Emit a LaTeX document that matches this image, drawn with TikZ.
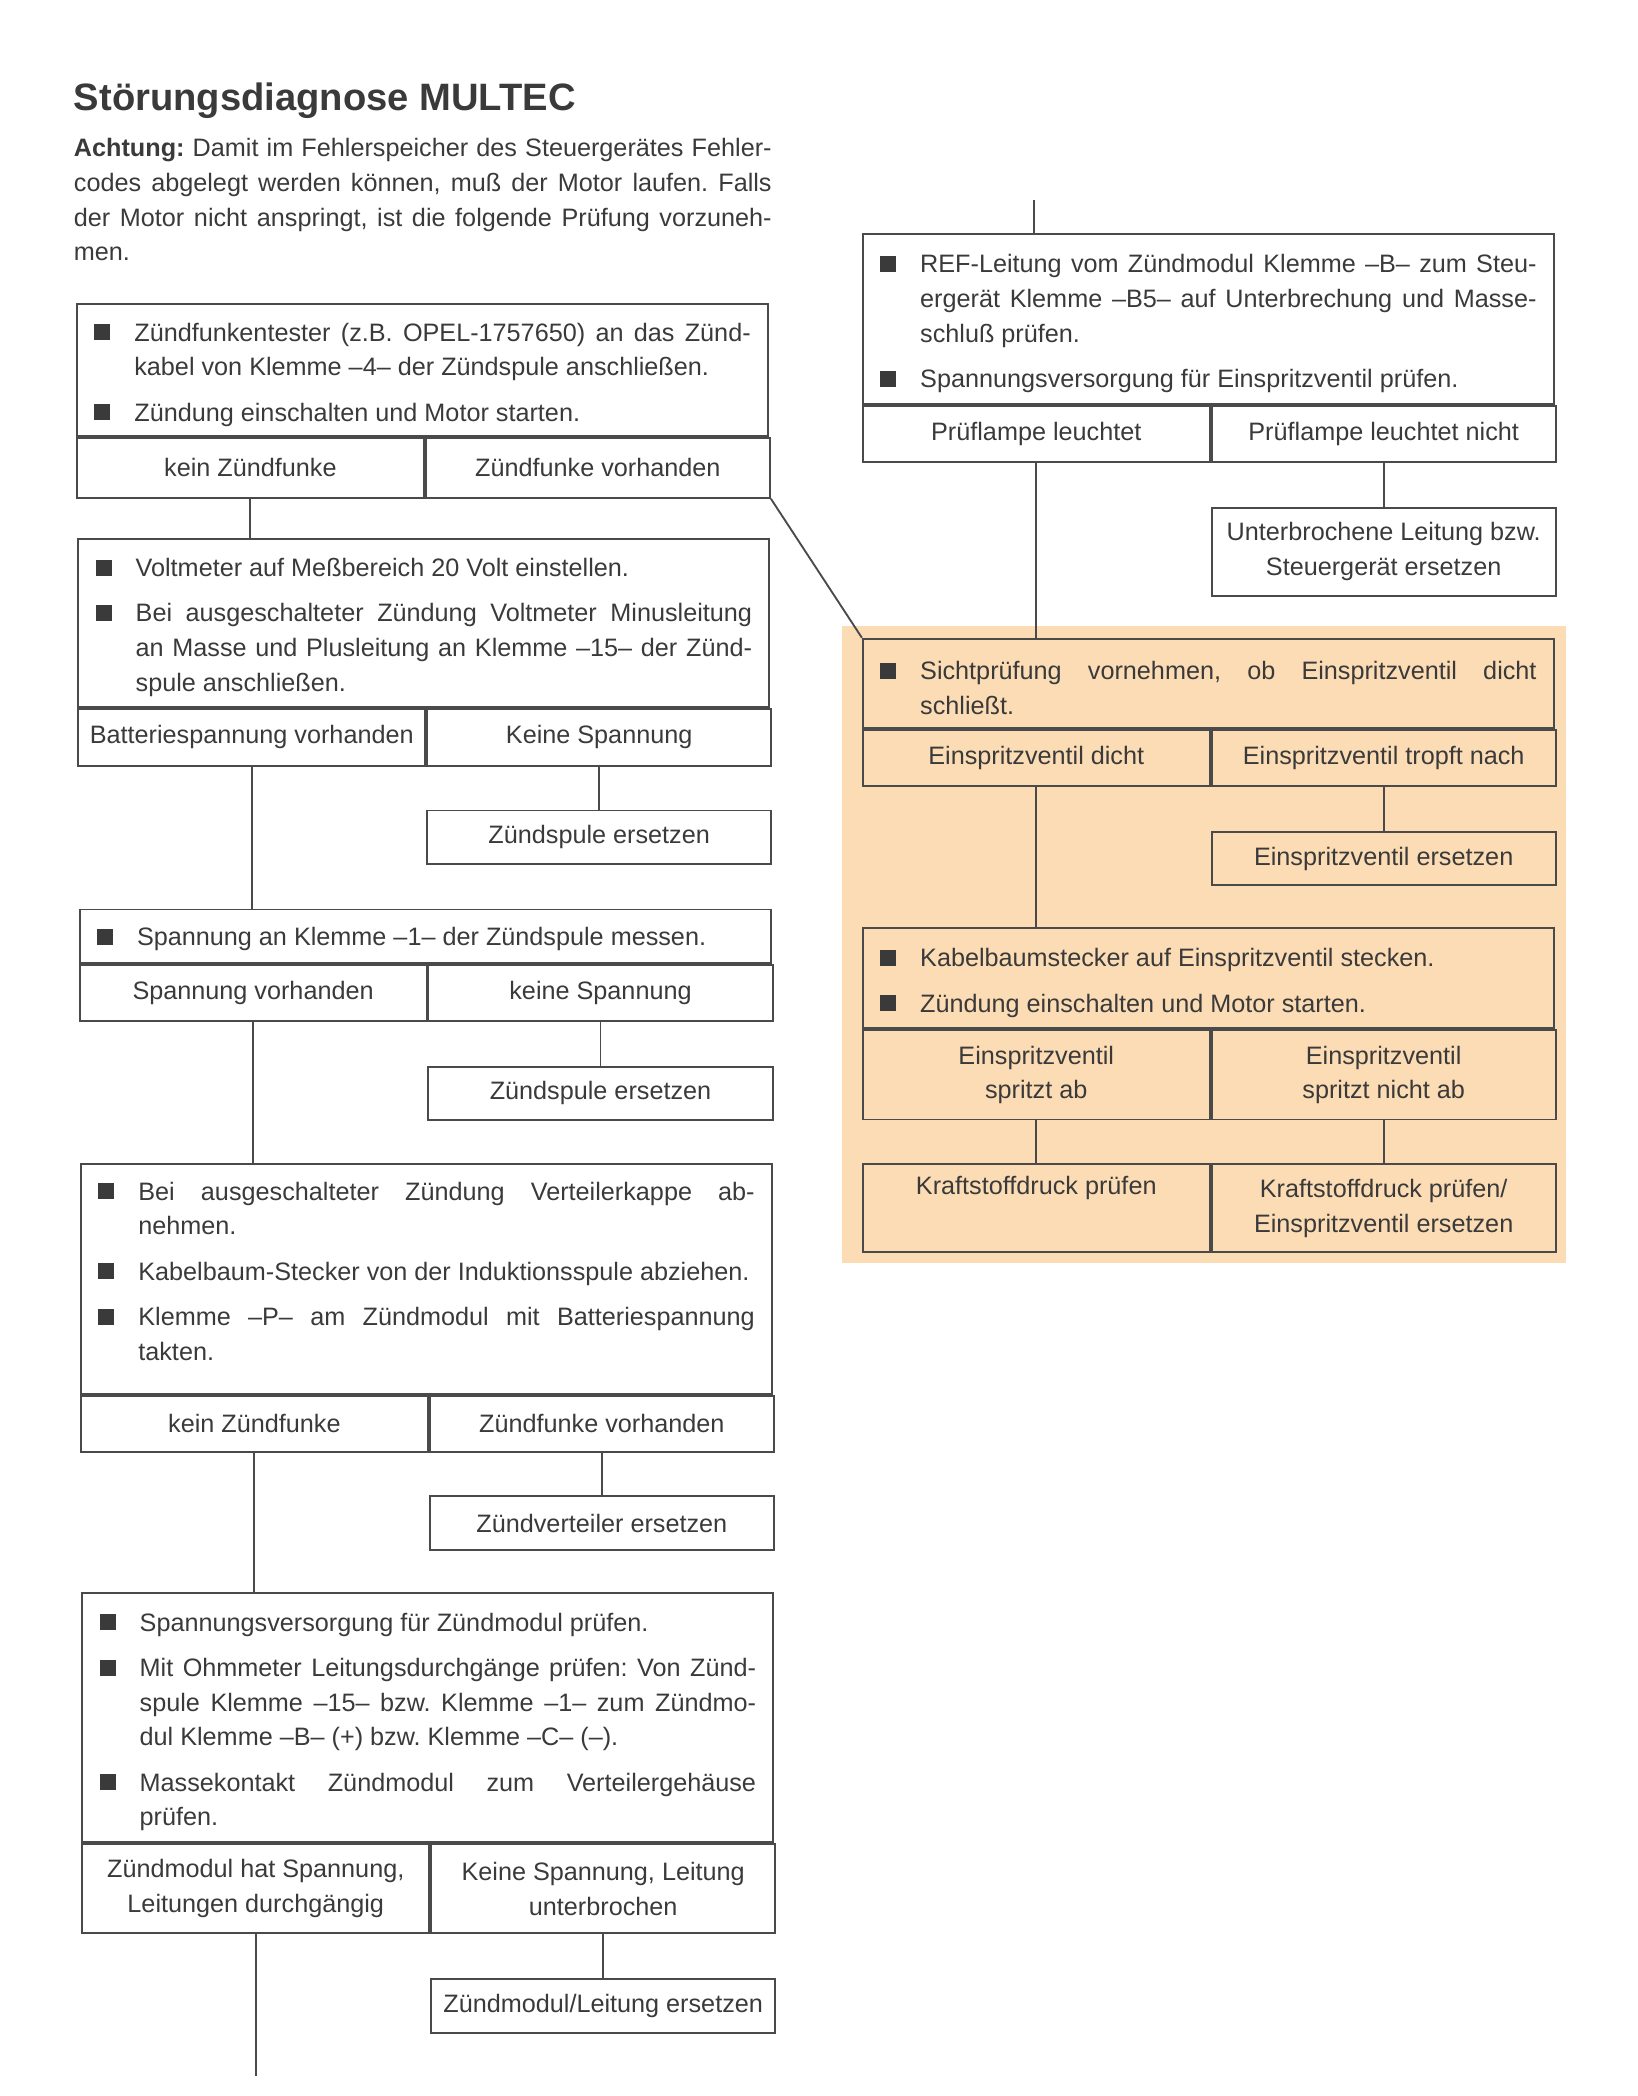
\documentclass[tikz,border=0pt]{standalone}
\usepackage{fontspec}
\setmainfont{Liberation Sans}
\usetikzlibrary{positioning}

\definecolor{ink}{HTML}{3A3A3A}
\definecolor{rahmen}{HTML}{4A4A4A}
\definecolor{pfirsich}{HTML}{FCDCB4}

% Aufzaehlungspunkt mit haengendem Einzug
\newcommand\punkt{\makebox[15pt][l]{\rule[0.3pt]{6pt}{6pt}}}
\newcommand\schritt[1]{\noindent\hangindent=15pt\hangafter=1\punkt#1\par}

\begin{document}
\frenchspacing
\begin{tikzpicture}[x=0.5pt,y=-0.5pt,
  every node/.style={text=ink,font=\fontsize{9.45}{13}\selectfont},
  kasten/.style={draw=rahmen,line width=0.7pt,anchor=north west,inner xsep=6.5pt,inner ysep=0pt,
    text width=246pt,align=justify,
    execute at begin node={\setlength{\parskip}{4pt}\tolerance=10000\hbadness=10000},
    execute at end node={\endgraf\vspace{-3.5pt}}},
  zelle/.style 2 args={draw=rahmen,line width=0.7pt,anchor=north west,inner sep=0pt,align=center,
    minimum width=#1,minimum height=#2},
  linie/.style={draw=rahmen,line width=0.7pt}]

\useasboundingbox (0,0) rectangle (1227,1571);

%Hintergrund rechts
\fill[pfirsich] (631,469) rectangle (1174,947);

%Ueberschrift
\node[anchor=base west,inner sep=0pt,font=\fontsize{14.3}{17}\selectfont\bfseries] (titel) at (55,83) {Störungsdiagnose MULTEC};
\node[anchor=north west,inner sep=0pt,text width=261.5pt,align=justify,
  execute at begin node={\tolerance=10000\hbadness=10000}] (hinweis) at (55,99)
  {\strut\textbf{Achtung:} Damit im Fehlerspeicher des Steuergerätes Fehler-\linebreak
   codes abgelegt werden können, muß der Motor laufen. Falls\linebreak
   der Motor nicht anspringt, ist die folgende Prüfung vorzuneh-\linebreak
   men.};

%Kasten 1
\node[kasten,minimum height=49.5pt] (z1) at (57,227) {%
  \schritt{Zündfunkentester (z.B. OPEL-1757650) an das Zünd-\linebreak kabel von Klemme –4– der Zündspule anschließen.}
  \schritt{Zündung einschalten und Motor starten.}};
\node[zelle={130pt}{22.5pt}] (z1a) at (z1.south west) {kein Zündfunke};
\node[zelle={129pt}{22.5pt}] (z1b) at (z1a.north east) {Zündfunke vorhanden};

%Kasten 2
\node[kasten,minimum height=63pt] (z2) at (58,403) {%
  \schritt{Voltmeter auf Meßbereich 20 Volt einstellen.}
  \schritt{Bei ausgeschalteter Zündung Voltmeter Minusleitung\linebreak an Masse und Plusleitung an Klemme –15– der Zünd-\linebreak spule anschließen.}};
\node[zelle={130pt}{21.5pt}] (z2a) at (z2.south west) {Batteriespannung vorhanden};
\node[zelle={129pt}{21.5pt}] (z2b) at (z2a.north east) {Keine Spannung};
\node[zelle={129pt}{20pt},below=16pt of z2b] (zs1) {Zündspule ersetzen};

%Kasten 3
\node[kasten,minimum height=20pt] (z3) at (59,681) {%
  \schritt{Spannung an Klemme –1– der Zündspule messen.}};
\node[zelle={130pt}{21pt}] (z3a) at (z3.south west) {Spannung vorhanden};
\node[zelle={129pt}{21pt}] (z3b) at (z3a.north east) {keine Spannung};
\node[zelle={129pt}{20pt},below=16.5pt of z3b] (zs2) {Zündspule ersetzen};

%Kasten 4
\node[kasten,minimum height=86pt] (z4) at (60,872) {%
  \schritt{Bei ausgeschalteter Zündung Verteilerkappe ab-\linebreak nehmen.}
  \schritt{Kabelbaum-Stecker von der Induktionsspule abziehen.}
  \schritt{Klemme –P– am Zündmodul mit Batteriespannung\linebreak takten.}\vspace{9.5pt}};
\node[zelle={130pt}{21pt}] (z4a) at (z4.south west) {kein Zündfunke};
\node[zelle={129pt}{21pt}] (z4b) at (z4a.north east) {Zündfunke vorhanden};
\node[zelle={129pt}{20pt},below=16pt of z4b] (zv) {Zündverteiler ersetzen};

%Kasten 5
\node[kasten,minimum height=93.5pt] (z5) at (61,1193) {%
  \schritt{Spannungsversorgung für Zündmodul prüfen.}
  \schritt{Mit Ohmmeter Leitungsdurchgänge prüfen: Von Zünd-\linebreak spule Klemme –15– bzw. Klemme –1– zum Zündmo-\linebreak dul Klemme –B– (+) bzw. Klemme –C– (–).}
  \schritt{Massekontakt Zündmodul zum Verteilergehäuse\linebreak prüfen.}};
\node[zelle={130pt}{33.5pt}] (z5a) at (z5.south west) {Zündmodul hat Spannung,\\Leitungen durchgängig};
\node[zelle={129pt}{33.5pt}] (z5b) at (z5a.north east) {Keine Spannung, Leitung\\unterbrochen};
\node[zelle={129pt}{20pt},below=16.5pt of z5b] (zm) {Zündmodul/Leitung ersetzen};
\coordinate (zende) at (190,1556);

%Rechte Spalte
\coordinate (roben) at (775,150);
\node[kasten,minimum height=63.5pt] (r1) at (646,175) {%
  \schritt{REF-Leitung vom Zündmodul Klemme –B– zum Steu-\linebreak ergerät Klemme –B5– auf Unterbrechung und Masse-\linebreak schluß prüfen.}
  \schritt{Spannungsversorgung für Einspritzventil prüfen.}};
\node[zelle={130pt}{21pt}] (r1a) at (r1.south west) {Prüflampe leuchtet};
\node[zelle={129pt}{21pt}] (r1b) at (r1a.north east) {Prüflampe leuchtet nicht};
\node[zelle={129pt}{33pt},below=16.5pt of r1b] (ul) {Unterbrochene Leitung bzw.\\Steuergerät ersetzen};

\node[kasten,minimum height=33.5pt] (r2) at (646,478) {%
  \schritt{Sichtprüfung vornehmen, ob Einspritzventil dicht\linebreak schließt.}};
\node[zelle={130pt}{21pt}] (r2a) at (r2.south west) {Einspritzventil dicht};
\node[zelle={129pt}{21pt}] (r2b) at (r2a.north east) {Einspritzventil tropft nach};
\node[zelle={129pt}{20pt},below=16.5pt of r2b] (ee) {Einspritzventil ersetzen};

\node[kasten,minimum height=37.5pt] (r3) at (646,695) {%
  \schritt{Kabelbaumstecker auf Einspritzventil stecken.}
  \schritt{Zündung einschalten und Motor starten.}};
\node[zelle={130pt}{33.5pt}] (r3a) at (r3.south west) {Einspritzventil\\spritzt ab};
\node[zelle={129pt}{33.5pt}] (r3b) at (r3a.north east) {Einspritzventil\\spritzt nicht ab};

\node[zelle={130pt}{33pt}] (r4a) at (646,872) {Kraftstoffdruck prüfen\\\strut};
\node[zelle={129pt}{33pt}] (r4b) at (r4a.north east) {Kraftstoffdruck prüfen/\\Einspritzventil ersetzen};

%Verbindungen links
\draw[linie] (z1a.south) -- (z1a.south |- z2.north);
\draw[linie] (z2b.south) -- (zs1.north);
\draw[linie] (z2a.south) -- (z2a.south |- z3.north);
\draw[linie] (z3b.south) -- (zs2.north);
\draw[linie] (z3a.south) -- (z3a.south |- z4.north);
\draw[linie] (z4b.south) -- (zv.north);
\draw[linie] (z4a.south) -- (z4a.south |- z5.north);
\draw[linie] (z5b.south) -- (zm.north);
\draw[linie] (z5a.south) -- (z5a.south |- zende);
%Verbindungen rechts
\draw[linie] (z1b.south east) -- (r2.north west);
\draw[linie] (roben) -- (roben |- r1.north);
\draw[linie] (r1b.south) -- (ul.north);
\draw[linie] (r1a.south) -- (r1a.south |- r2.north);
\draw[linie] (r2b.south) -- (ee.north);
\draw[linie] (r2a.south) -- (r2a.south |- r3.north);
\draw[linie] (r3a.south) -- (r4a.north);
\draw[linie] (r3b.south) -- (r4b.north);

\end{tikzpicture}
\end{document}
